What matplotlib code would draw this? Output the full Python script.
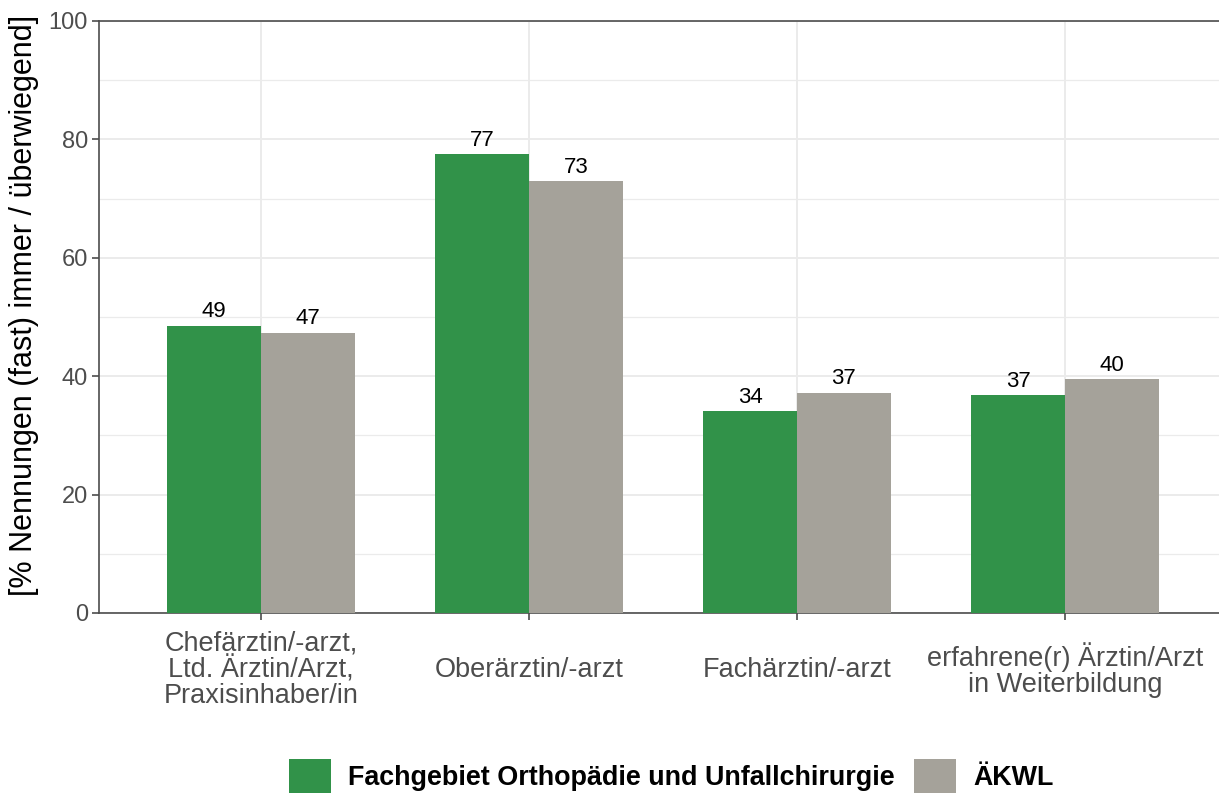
import numpy as np
import matplotlib.pyplot as plt
from matplotlib.patches import Patch

# Data
CATEGORIES = [
    "Chefärztin/-arzt,\nLtd. Ärztin/Arzt,\nPraxisinhaber/in",
    "Oberärztin/-arzt",
    "Fachärztin/-arzt",
    "erfahrene(r) Ärztin/Arzt\nin Weiterbildung",
]
SERIES = ["Fachgebiet Orthopädie und Unfallchirurgie", "ÄKWL"]
ORTHO_VALUES = [48.5, 77.5, 34.1, 36.8]
AEKWL_VALUES = [47.3, 72.9, 37.2, 39.5]
ORTHO_LABELS = ["49", "77", "34", "37"]
AEKWL_LABELS = ["47", "73", "37", "40"]
Y_TICKS = [0, 20, 40, 60, 80, 100]

GREEN = "#319249"
GREY = "#A5A29A"
AXIS_COL = "#4D4D4D"
GRID_COL = "#EBEBEB"

plt.rcParams["font.family"] = ["Liberation Sans", "DejaVu Sans"]


def main():
    fig = plt.figure(figsize=(12.19, 7.94), dpi=100)
    ax = fig.add_axes([0.0812, 0.228, 0.9188, 0.7456])

    x = np.arange(len(CATEGORIES))
    w = 0.35
    b1 = ax.bar(x - w / 2, ORTHO_VALUES, width=w, color=GREEN, zorder=3)
    b2 = ax.bar(x + w / 2, AEKWL_VALUES, width=w, color=GREY, zorder=3)
    ax.bar_label(b1, labels=ORTHO_LABELS, padding=2.5, fontsize=16, color="black")
    ax.bar_label(b2, labels=AEKWL_LABELS, padding=2.5, fontsize=16, color="black")

    ax.set_xlim(-0.605, 3.575)
    ax.set_ylim(0, 100)
    ax.set_yticks(Y_TICKS)
    ax.set_yticks([10, 30, 50, 70, 90], minor=True)
    ax.set_xticks(x)
    ax.set_xticklabels(CATEGORIES, fontsize=19.5, color=AXIS_COL, linespacing=0.97)
    for lab in ax.get_xticklabels():
        lab.set_verticalalignment("center")
    ax.tick_params(axis="x", pad=36)
    ax.tick_params(axis="y", labelsize=17, labelcolor=AXIS_COL, pad=3)
    ax.tick_params(axis="both", which="major", length=5, width=1.2, color=AXIS_COL)
    ax.tick_params(axis="y", which="minor", length=0)

    ax.grid(True, which="major", color=GRID_COL, linewidth=1.4, zorder=0)
    ax.grid(True, which="minor", axis="y", color=GRID_COL, linewidth=0.9, zorder=0)
    ax.set_axisbelow(True)

    for side in ["left", "bottom", "top"]:
        ax.spines[side].set_color(AXIS_COL)
        ax.spines[side].set_linewidth(1.2)
    ax.spines["right"].set_visible(False)

    ax.set_ylabel("[% Nennungen (fast) immer / überwiegend]", fontsize=22,
                  color="black", va="center")
    ax.yaxis.set_label_coords(-0.0672, 0.519)

    handles = [Patch(facecolor=GREEN), Patch(facecolor=GREY)]
    fig.legend(handles, SERIES, loc="center", bbox_to_anchor=(0.5505, 0.0227),
               ncol=2, frameon=False, handlelength=1.55, handleheight=1.6,
               handletextpad=0.63, columnspacing=0.74, borderpad=0,
               prop={"weight": "bold", "size": 19.4})

    fig.savefig("out.png", dpi=100)


if __name__ == "__main__":
    main()
